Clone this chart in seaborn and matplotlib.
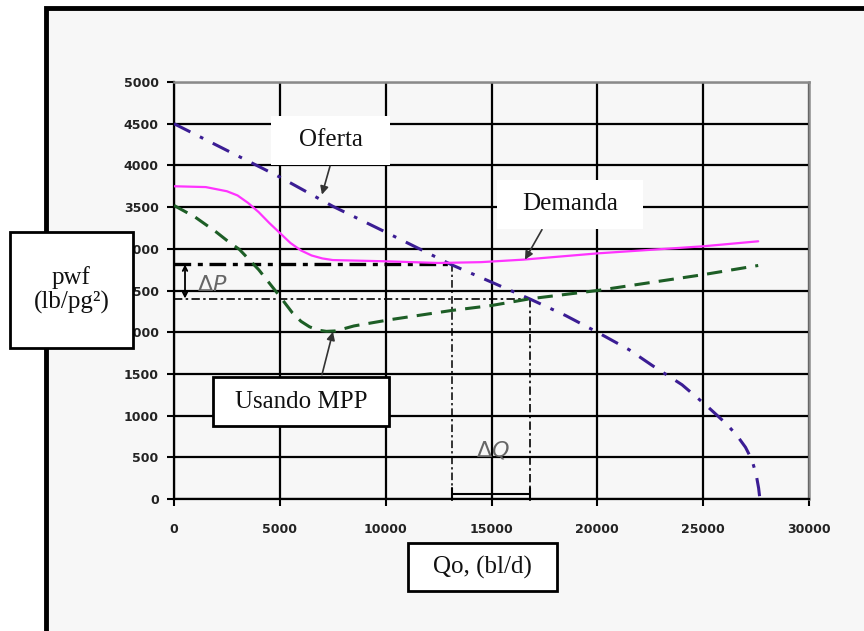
import numpy as np
import pandas as pd
import matplotlib
matplotlib.use('Agg')
import matplotlib.pyplot as plt
import matplotlib.patches as mpatches
import seaborn as sns

# Curve values (Qo in bl/d, pwf in lb/pg2)
oferta_q = [0, 2500, 5000, 7500, 10000, 13100, 15000, 16800, 18500, 20000, 21500,
            22600, 24000, 25200, 26100, 26600, 27000, 27300, 27500, 27620, 27680]
oferta_p = [4500, 4180, 3860, 3510, 3200, 2810, 2600, 2400, 2200, 2000, 1790,
            1600, 1370, 1110, 900, 760, 620, 470, 300, 130, 0]

demanda_q = [0, 1500, 2500, 3000, 3500, 4000, 4500, 5000, 5500, 6000, 6500, 7000,
             7500, 10000, 12500, 14500, 16500, 20000, 25000, 27600]
demanda_p = [3750, 3740, 3690, 3640, 3550, 3440, 3310, 3190, 3070, 2980, 2920, 2885,
             2865, 2850, 2830, 2840, 2870, 2945, 3030, 3090]

mpp_q = [0, 1000, 2000, 2500, 3100, 4000, 5000, 5600, 6000, 6400, 6800, 7200,
         7600, 8000, 8500, 10200, 13100, 15000, 16800, 20000, 25000, 27600]
mpp_p = [3520, 3380, 3200, 3100, 2990, 2750, 2430, 2230, 2130, 2065, 2025, 2010,
         2015, 2040, 2075, 2150, 2260, 2320, 2400, 2500, 2690, 2800]

# operating points (intersections)
q_dem, p_dem = 13130, 2812
q_mpp, p_mpp = 16820, 2404

x_ticks = list(range(0, 30001, 5000))
y_ticks = list(range(0, 5001, 500))

sns.set_style('white')
plt.rcParams['font.family'] = ['DejaVu Sans']

fig = plt.figure(figsize=(8.64, 6.31), dpi=100)
fig.patch.set_facecolor('white')

# outer frame (left and top edges visible)
frame = mpatches.Rectangle((46 / 864, -0.05), 1.0, 1 - 8 / 631 + 0.05,
                           transform=fig.transFigure, facecolor='#f7f7f7',
                           edgecolor='black', lw=3.5, zorder=-1)
fig.patches.append(frame)

ax = fig.add_axes([174 / 864, 1 - 499 / 631, 635 / 864, 417 / 631])
ax.set_facecolor('#f7f7f7')

sns.lineplot(x=oferta_q, y=oferta_p, ax=ax, sort=False, color='#3b1d94',
             lw=2.2, linestyle=(0, (6, 3.5, 1.2, 3.5)), zorder=5)
sns.lineplot(x=demanda_q, y=demanda_p, ax=ax, sort=False, color='#ff33ff',
             lw=1.6, zorder=5)
sns.lineplot(x=mpp_q, y=mpp_p, ax=ax, sort=False, color='#1d5e26',
             lw=2.2, linestyle=(0, (5, 3)), zorder=5)

# reference lines for the operating points
ddot = (0, (5, 2, 1.5, 2))
ax.plot([0, q_dem], [p_dem, p_dem], color='black', lw=2.4, linestyle=ddot, zorder=4)
ax.plot([q_dem, q_dem], [p_dem, 0], color='black', lw=1.1, linestyle=ddot, zorder=4)
ax.plot([0, q_mpp], [p_mpp, p_mpp], color='black', lw=1.2, linestyle=ddot, zorder=4)
ax.plot([q_mpp, q_mpp], [p_mpp, 0], color='black', lw=1.2, linestyle=ddot, zorder=4)

# delta arrows
ax.annotate('', xy=(520, p_mpp), xytext=(520, p_dem),
            arrowprops=dict(arrowstyle='<->', color='black', lw=1.3,
                            shrinkA=0, shrinkB=0, mutation_scale=8), zorder=6)
ax.text(1800, 2560, r'$\Delta P$', fontsize=16, color='#666666',
        ha='center', va='center', zorder=6)
ax.annotate('', xy=(q_mpp, 60), xytext=(q_dem, 60),
            arrowprops=dict(arrowstyle='|-|', color='black', lw=1.5,
                            shrinkA=0, shrinkB=0, mutation_scale=4), zorder=6)
ax.text(15050, 590, r'$\Delta Q$', fontsize=16, color='#666666',
        ha='center', va='center', zorder=6)

# label arrows
arrow_kw = dict(arrowstyle='-|>', color='#333333', lw=1.2, mutation_scale=12,
                shrinkA=0, shrinkB=0)
ax.annotate('', xy=(6990, 3650), xytext=(7370, 3990), arrowprops=arrow_kw, zorder=7)
ax.annotate('', xy=(16580, 2870), xytext=(17385, 3230), arrowprops=arrow_kw, zorder=7)
ax.annotate('', xy=(7510, 2005), xytext=(6990, 1490), arrowprops=arrow_kw, zorder=7)

ax.set_xlim(0, 30000)
ax.set_ylim(0, 5000)
ax.set_xticks(x_ticks)
ax.set_yticks(y_ticks)
ax.set_xticklabels([str(v) for v in x_ticks])
ax.set_yticklabels([str(v) for v in y_ticks])
ax.grid(True, color='black', lw=1.6)
ax.tick_params(axis='both', direction='out', length=5, width=1.5, color='black',
               labelsize=9, labelcolor='#222222', left=True, bottom=True)
ax.tick_params(axis='y', pad=6)
ax.tick_params(axis='x', pad=12)
for lab in ax.get_xticklabels() + ax.get_yticklabels():
    lab.set_fontweight('bold')
for side in ['top', 'right']:
    ax.spines[side].set_color('#8a8a8a')
    ax.spines[side].set_linewidth(1.8)
for side in ['left', 'bottom']:
    ax.spines[side].set_color('black')
    ax.spines[side].set_linewidth(1.6)
ax.set_xlabel('')
ax.set_ylabel('')


def text_box(x0, y0, x1, y1, txt, border=True):
    # box in pixel coords of the 864x631 picture
    fx, fy = x0 / 864, 1 - y1 / 631
    w, h = (x1 - x0) / 864, (y1 - y0) / 631
    rect = mpatches.Rectangle((fx, fy), w, h, transform=fig.transFigure,
                              facecolor='white',
                              edgecolor='black' if border else 'none',
                              lw=2.0, zorder=10)
    fig.patches.append(rect)
    fig.text(fx + w / 2, fy + h / 2, txt, ha='center', va='center',
             fontsize=18, family='Liberation Serif', color='#111111',
             zorder=11, linespacing=1.1)


text_box(271, 116, 390, 165, 'Oferta', border=False)
text_box(497, 180, 643, 229, 'Demanda', border=False)
text_box(213, 377, 389, 426, 'Usando MPP')
text_box(10, 232, 133, 348, 'pwf\n(lb/pg²)')
text_box(408, 543, 557, 591, 'Qo, (bl/d)')

fig.savefig('out.png', dpi=100)
